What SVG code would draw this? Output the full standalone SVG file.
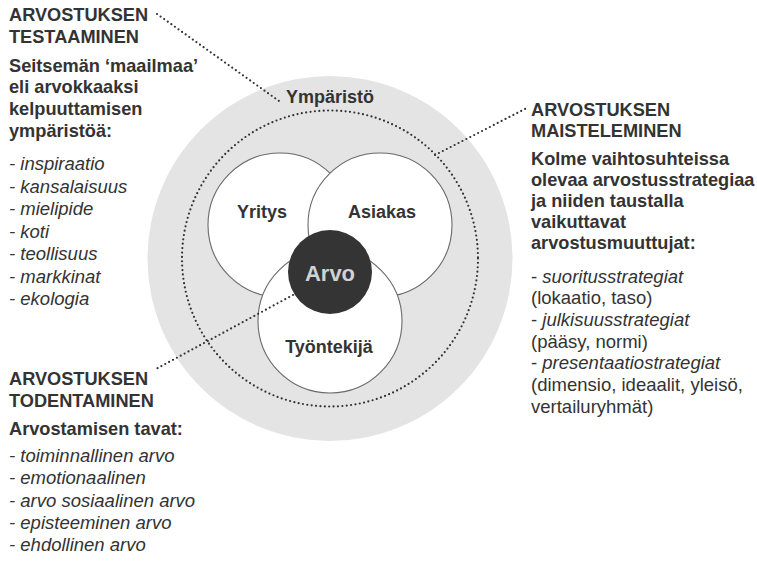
<svg xmlns="http://www.w3.org/2000/svg" width="757" height="562" viewBox="0 0 757 562">
<style>
text{font-family:"Liberation Sans",Arial,sans-serif;fill:#333;font-size:18.5px}
.b{font-weight:bold;font-size:18.2px}
.i{font-style:italic}
.c{text-anchor:middle;font-weight:bold;font-size:18px}
.dot{fill:none;stroke:#333;stroke-width:2.2;stroke-linecap:round;stroke-dasharray:0 4.4}
.w{fill:#fff;stroke:#6a6a6a;stroke-width:1.1}
</style>
<rect width="757" height="562" fill="#fff"/>
<g id="ymparisto">
<circle cx="330" cy="258.5" r="182.5" fill="#e4e4e5"/>
<text class="c" x="330" y="103">Ympäristö</text>
</g>
<g id="raja">
<circle class="dot" cx="330" cy="258.5" r="148"/>
</g>
<g id="yritys">
<circle class="w" cx="280" cy="225" r="72"/>
<text class="c" x="262" y="218">Yritys</text>
</g>
<g id="asiakas">
<circle class="w" cx="380" cy="225" r="72"/>
<text class="c" x="382" y="218">Asiakas</text>
</g>
<g id="tyontekija">
<circle class="w" cx="330" cy="321" r="72"/>
<text class="c" x="329" y="353">Työntekijä</text>
</g>
<g id="arvo">
<circle cx="330" cy="272" r="42" fill="#353435"/>
<text x="330" y="281" text-anchor="middle" style="font-size:22px;font-weight:bold;fill:#d2d2d2">Arvo</text>
</g>
<g id="connectors">
<line class="dot" x1="157" y1="14" x2="279" y2="101"/>
<line class="dot" x1="435" y1="155" x2="527" y2="108"/>
<line class="dot" x1="293" y1="295" x2="156" y2="369"/>
</g>
<g id="testaaminen">
<text class="b" x="9" y="20.7">ARVOSTUKSEN</text>
<text class="b" x="9" y="42.7">TESTAAMINEN</text>
<text class="b" x="9" y="71.7">Seitsemän ‘maailmaa’</text>
<text class="b" x="9" y="93.4">eli arvokkaaksi</text>
<text class="b" x="9" y="115.1">kelpuuttamisen</text>
<text class="b" x="9" y="136.8">ympäristöä:</text>
<text class="i" x="9" y="170">- inspiraatio</text>
<text class="i" x="9" y="192.5">- kansalaisuus</text>
<text class="i" x="9" y="215">- mielipide</text>
<text class="i" x="9" y="237.5">- koti</text>
<text class="i" x="9" y="260">- teollisuus</text>
<text class="i" x="9" y="282.5">- markkinat</text>
<text class="i" x="9" y="305">- ekologia</text>
</g>
<g id="maisteleminen">
<text class="b" x="531" y="115.7">ARVOSTUKSEN</text>
<text class="b" x="531" y="136.7">MAISTELEMINEN</text>
<text class="b" x="531" y="165">Kolme vaihtosuhteissa</text>
<text class="b" x="531" y="185.8">olevaa arvostusstrategiaa</text>
<text class="b" x="531" y="206.7">ja niiden taustalla</text>
<text class="b" x="531" y="228">vaikuttavat</text>
<text class="b" x="531" y="249">arvostusmuuttujat:</text>
<text x="531" y="282.5"><tspan>- </tspan><tspan class="i">suoritusstrategiat</tspan></text>
<text x="531" y="304.2">(lokaatio, taso)</text>
<text x="531" y="325.9"><tspan>- </tspan><tspan class="i">julkisuusstrategiat</tspan></text>
<text x="531" y="347.6">(pääsy, normi)</text>
<text x="531" y="369.3"><tspan>- </tspan><tspan class="i">presentaatiostrategiat</tspan></text>
<text x="531" y="391">(dimensio, ideaalit, yleisö,</text>
<text x="531" y="412.7">vertailuryhmät)</text>
</g>
<g id="todentaminen">
<text class="b" x="9" y="385">ARVOSTUKSEN</text>
<text class="b" x="9" y="406.7">TODENTAMINEN</text>
<text class="b" x="9" y="435">Arvostamisen tavat:</text>
<text class="i" x="9" y="461.7">- toiminnallinen arvo</text>
<text class="i" x="9" y="484">- emotionaalinen</text>
<text class="i" x="9" y="506.5">- arvo sosiaalinen arvo</text>
<text class="i" x="9" y="528.5">- episteeminen arvo</text>
<text class="i" x="9" y="550.7">- ehdollinen arvo</text>
</g>
</svg>
